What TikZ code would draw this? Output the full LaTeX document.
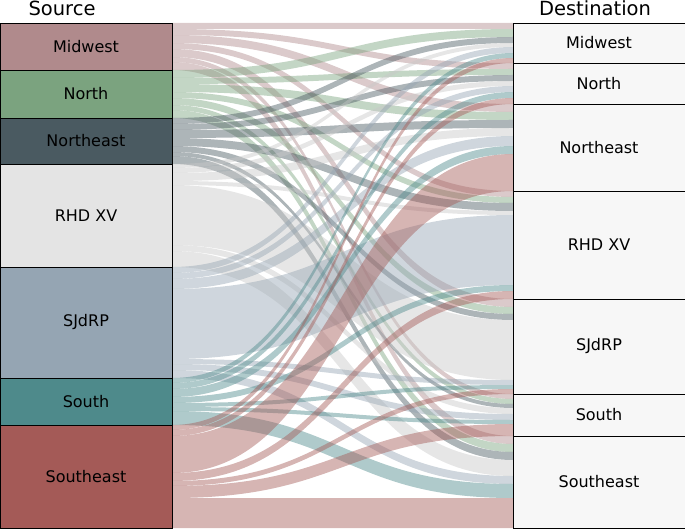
\documentclass[tikz,border=0pt]{standalone}
\usepackage{fontspec}
\setmainfont{DejaVu Sans}
\definecolor{cMW}{HTML}{B08A8C}
\definecolor{cN}{HTML}{7BA37F}
\definecolor{cNE}{HTML}{4A5A61}
\definecolor{cRHD}{HTML}{E4E4E4}
\definecolor{cRHDf}{HTML}{C8C8C8}
\definecolor{cSJ}{HTML}{95A5B3}
\definecolor{cS}{HTML}{4E8A8B}
\definecolor{cSE}{HTML}{A45A57}
\definecolor{cDest}{HTML}{F7F7F7}
\begin{document}
\begin{tikzpicture}[x=1pt,y=-1pt,
  srcbox/.style={draw=black,line width=0.8pt},
  dstbox/.style={draw=black,fill=cDest,line width=0.8pt},
  lbl/.style={font=\fontsize{16}{18}\selectfont},
  ttl/.style={font=\fontsize{19.5}{21}\selectfont}]
\useasboundingbox (0,0) rectangle (685,529);
\gdef\spos{23}
\gdef\dpi{23}\gdef\dpii{63}\gdef\dpiii{104}\gdef\dpiv{191}\gdef\dpv{299}\gdef\dpvi{394}\gdef\dpvii{436}
\def\dname#1{\ifcase#1\or dpi\or dpii\or dpiii\or dpiv\or dpv\or dpvi\or dpvii\fi}
\foreach \col/\row in {cMW/{6,6,8,6,8,5,8},cN/{8,6,8,6,7,5,8},cNE/{6,6,8,8,6,4,8},cRHDf/{4,5,8,4,60,6,16},cSJ/{6,6,10,70,5,6,8},cS/{5,6,8,6,4,4,14},cSE/{5,6,37,8,5,12,30}}{
  \foreach \v [count=\j] in \row {
    \pgfmathsetmacro\ya{\spos}
    \pgfmathsetmacro\yb{\spos+\v}
    \edef\dn{\dname{\j}}
    \pgfmathsetmacro\za{\csname\dn\endcsname}
    \pgfmathsetmacro\zb{\za+\v}
    \fill[\col,opacity=0.45] (172,\ya) .. controls (343,\ya) and (343,\za) .. (513,\za) -- (513,\zb) .. controls (343,\zb) and (343,\yb) .. (172,\yb) -- cycle;
    \xdef\spos{\yb}
    \expandafter\xdef\csname\dn\endcsname{\zb}
  }
}
\node[ttl] (tsrc) at (62,8) {Source};
\node[ttl] (tdst) at (595,8) {Destination};
\foreach \c/\a/\b/\t in {cMW/23/70/Midwest,cN/70/118/North,cNE/118/164/Northeast,cRHD/164/267/RHD XV,cSJ/267/378/SJdRP,cS/378/425/South,cSE/425/528/Southeast}{
  \draw[srcbox,fill=\c] (0,\a) rectangle (172,\b);
  \node[lbl] at (86,{(\a+\b)/2}) {\t};
}
\foreach \a/\b/\t in {23/63/Midwest,63/104/North,104/191/Northeast,191/299/RHD XV,299/394/SJdRP,394/436/South,436/528/Southeast}{
  \draw[dstbox] (513,\a) rectangle (685,\b);
  \node[lbl] at (599,{(\a+\b)/2}) {\t};
}
\end{tikzpicture}
\end{document}
